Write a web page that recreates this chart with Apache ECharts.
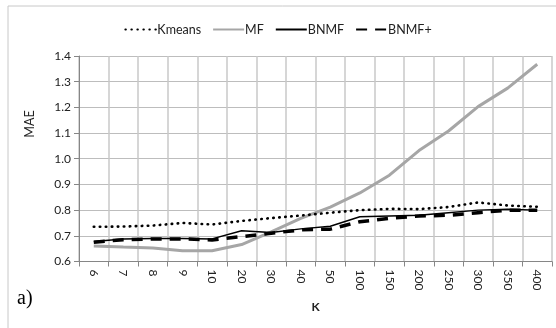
<!DOCTYPE html>
<html><head><meta charset="utf-8">
<script src="https://cdn.jsdelivr.net/npm/echarts@6/dist/echarts.min.js"></script>
<style>html,body{margin:0;padding:0;background:#fff}#c{width:556px;height:328px}</style>
</head><body><div id="c"></div>
<script>
var categories = ['6','7','8','9','10','20','30','40','50','100','150','200','250','300','350','400'];
var kmeans = [0.735,0.736,0.740,0.750,0.744,0.758,0.769,0.779,0.790,0.800,0.805,0.804,0.812,0.830,0.818,0.813];
var mf     = [0.660,0.656,0.653,0.642,0.642,0.666,0.715,0.768,0.812,0.867,0.936,1.032,1.108,1.203,1.275,1.368];
var bnmf   = [0.678,0.688,0.690,0.690,0.688,0.720,0.713,0.727,0.737,0.774,0.777,0.780,0.790,0.800,0.803,0.800];
var bnmfp  = [0.675,0.685,0.688,0.688,0.684,0.697,0.710,0.723,0.726,0.755,0.768,0.777,0.780,0.790,0.800,0.800];
var yTicks = {min:0.6, max:1.4, interval:0.1};

var chart = echarts.init(document.getElementById('c'));
var font = 'Lato';
var clear = 'rgba(0,0,0,0)';
chart.setOption({
  animation:false,
  backgroundColor:'#fff',
  textStyle:{fontFamily:font},
  graphic:[
    {type:'rect', shape:{x:8,y:6,width:560,height:330}, style:{fill:'none',stroke:'#c8c8c8',lineWidth:1}, silent:true},
    {type:'text', left:17, top:289, style:{text:'a)', font:'20px "Liberation Serif"', fill:'#000'}},
    {type:'text', x:30, y:124, rotation:Math.PI/2, style:{text:'MAE', font:'12.5px Lato', fill:'#222', align:'center', verticalAlign:'middle'}}
  ],
  legend:{
    top:18, left:'center', itemWidth:31, itemHeight:10, itemGap:11,
    textStyle:{fontFamily:font, fontSize:12.5, color:'#222', padding:[0,0,0,-4]},
    data:['Kmeans','MF','BNMF','BNMF+']
  },
  grid:{left:79, right:4, top:56, bottom:66.5},
  xAxis:{
    type:'category', data:categories, boundaryGap:true,
    name:'K', nameLocation:'middle', nameGap:40,
    nameTextStyle:{fontFamily:font, fontSize:12, fontWeight:'bold', color:'#222'},
    axisLine:{lineStyle:{color:'#868686', width:1}},
    axisTick:{show:true, length:5, alignWithLabel:false, lineStyle:{color:'#868686'}},
    axisLabel:{rotate:-90, fontFamily:font, fontSize:12, color:'#222', margin:8, interval:0},
    splitLine:{show:true, lineStyle:{color:'#c8c8c8', width:1.5}}
  },
  yAxis:{
    type:'value', min:yTicks.min, max:yTicks.max, interval:yTicks.interval,
    axisLine:{show:true, lineStyle:{color:'#868686'}},
    axisTick:{show:true, length:5, lineStyle:{color:'#868686'}},
    axisLabel:{fontFamily:font, fontSize:12, color:'#222', margin:8, formatter:function(v){return v.toFixed(1);}},
    splitLine:{show:true, lineStyle:{color:'#bdbdbd', width:1}}
  },
  series:[
    {name:'Kmeans', type:'line', data:kmeans, symbol:'none', z:4,
     lineStyle:{color:'#000', width:2.6, type:[0.5,5.5], cap:'round'}, itemStyle:{color:clear}},
    {name:'MF', type:'line', data:mf, symbol:'none', z:2,
     lineStyle:{color:'#a6a6a6', width:3}, itemStyle:{color:clear}},
    {name:'BNMF', type:'line', data:bnmf, symbol:'none', z:3,
     lineStyle:{color:'#000', width:1.5}, itemStyle:{color:clear}},
    {name:'BNMF+', type:'line', data:bnmfp, symbol:'none', z:3,
     lineStyle:{color:'#000', width:3.5, type:[11,8]}, itemStyle:{color:clear}}
  ]
});
</script></body></html>
